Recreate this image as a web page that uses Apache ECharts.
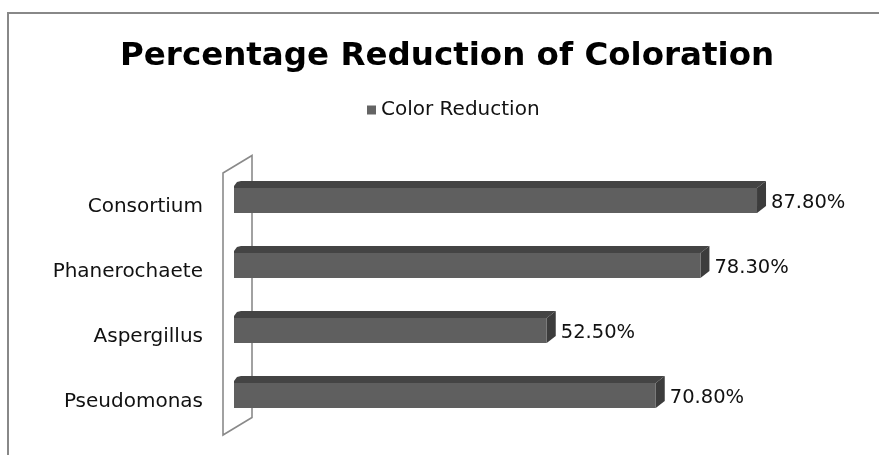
<!DOCTYPE html>
<html><head><meta charset="utf-8">
<script src="https://cdn.jsdelivr.net/npm/echarts@6/dist/echarts.min.js"></script>
<style>html,body{margin:0;padding:0;background:#fff}#c{width:879px;height:455px}</style>
</head><body><div id="c"></div>
<script>
const titleText = 'Percentage Reduction of Coloration';
const seriesName = 'Color Reduction';
const categories = ['Pseudomonas', 'Aspergillus', 'Phanerochaete', 'Consortium'];
const values = [70.8, 52.5, 78.3, 87.8];
const valueLabels = ['70.80%', '52.50%', '78.30%', '87.80%'];

const chart = echarts.init(document.getElementById('c'), null, {renderer: 'canvas'});
const FONT = 'DejaVu Sans';

function renderBar(params, api) {
  const i = api.value(0);
  const v = api.value(1);
  const start = api.coord([0, i]);
  const end = api.coord([v, i]);
  const cy = start[1];
  const x0 = start[0], x1 = end[0];
  const yt = cy - 19, yb = cy + 6;
  const dx = 9, dy = 7;
  return {
    type: 'group',
    children: [
      {type: 'polygon', shape: {points: [[x0 + 3, yt - dy + 1], [x0 + dx - 2, yt - dy], [x1 + dx, yt - dy], [x1, yt], [x0, yt], [x0, yt - 2]]},
        style: {fill: '#444444'}},
      {type: 'polygon', shape: {points: [[x1, yt], [x1 + dx, yt - dy], [x1 + dx, yb - dy], [x1, yb]]},
        style: {fill: '#3c3c3c'}},
      {type: 'rect', shape: {x: x0, y: yt, width: x1 - x0, height: yb - yt},
        style: {fill: '#5f5f5f'}},
      {type: 'text', x: x1 + 14, y: cy - 4,
        style: {text: valueLabels[i], font: '19.5px "' + FONT + '"', fill: '#111', verticalAlign: 'middle', align: 'left'}}
    ]
  };
}

function renderWall(params, api) {
  const cs = params.coordSys;
  const left = cs.x - 11, right = cs.x + 18;
  const top = cs.y - 1.5, bot = cs.y + cs.height + 0.5;
  return {
    type: 'polygon',
    shape: {points: [[left, top], [right, top - 17.5], [right, bot - 17.5], [left, bot]]},
    style: {fill: 'none', stroke: '#8a8a8a', lineWidth: 1.6}
  };
}

chart.setOption({
  animation: false,
  backgroundColor: '#fff',
  graphic: [{type: 'rect', shape: {x: 8, y: 13, width: 900, height: 500}, style: {fill: 'none', stroke: '#888', lineWidth: 2}, z: -10}],
  title: {text: titleText, left: 115, top: 35,
    textStyle: {fontFamily: 'DejaVu Sans', fontWeight: 'bold', fontSize: 32.5, color: '#000'}},
  legend: {data: [seriesName], left: 362, top: 95, icon: 'rect', itemWidth: 9, itemHeight: 9, itemGap: 8,
    textStyle: {fontFamily: FONT, fontSize: 20, color: '#111'}},
  grid: {left: 234, right: 49.3, top: 174.5, bottom: 20.5, containLabel: false},
  xAxis: {type: 'value', min: 0, max: 100, show: false},
  yAxis: {type: 'category', data: categories, axisLine: {show: false}, axisTick: {show: false},
    axisLabel: {margin: 31, fontFamily: FONT, fontSize: 20, color: '#111', padding: [7, 0, 0, 0]}},
  series: [
    {type: 'custom', name: 'wall', renderItem: renderWall, data: [[0, 0]], z: 1, silent: true},
    {type: 'custom', name: seriesName, renderItem: renderBar, itemStyle: {color: '#646464'},
      encode: {x: 1, y: 0}, data: values.map((v, i) => [i, v]), z: 2}
  ]
});
</script></body></html>
